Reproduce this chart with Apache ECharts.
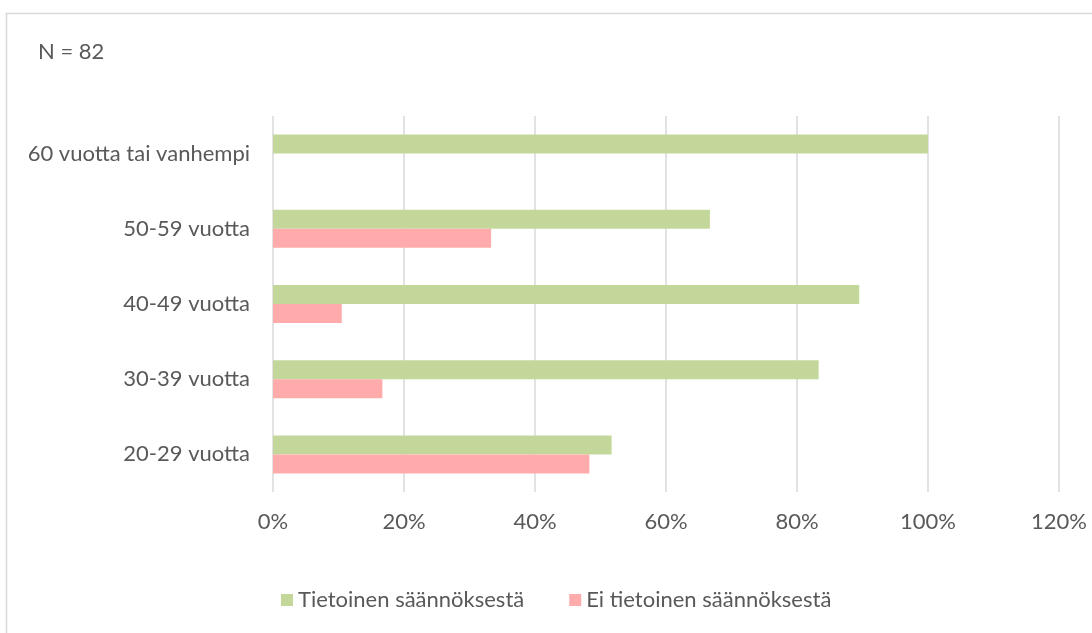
<!DOCTYPE html>
<html>
<head>
<meta charset="utf-8">
<script src="https://cdn.jsdelivr.net/npm/echarts@6/dist/echarts.min.js"></script>
<style>
  html, body { margin: 0; padding: 0; background: #fff; }
  #chart { width: 1092px; height: 633px; }
</style>
</head>
<body>
<div id="chart"></div>
<script>
// age groups, bottom to top
const categories = ['20-29 vuotta', '30-39 vuotta', '40-49 vuotta', '50-59 vuotta', '60 vuotta tai vanhempi']
const aware = [51.7, 83.3, 89.5, 66.7, 100]
const notAware = [48.3, 16.7, 10.5, 33.3, 0]
const seriesNames = ['Tietoinen säännöksestä', 'Ei tietoinen säännöksestä']

const font = 'Lato, "Open Sans", sans-serif'
const textColor = '#595959'
const fontSize = 22

const chart = echarts.init(document.getElementById('chart'))

chart.setOption({
  animation: false,
  textStyle: { fontFamily: font, color: textColor },
  graphic: [
    {
      type: 'rect',
      shape: { x: 6.5, y: 13.5, width: 1200, height: 700 },
      style: { fill: 'none', stroke: '#d9d9d9', lineWidth: 1.5 },
      silent: true
    },
    {
      type: 'text',
      left: 38,
      top: 41,
      style: { text: 'N = 82', font: fontSize + 'px ' + font, fill: textColor }
    }
  ],
  legend: {
    bottom: 17,
    left: 276,
    itemWidth: 12,
    itemHeight: 12,
    itemGap: 45,
    icon: 'rect',
    textStyle: { fontSize: fontSize, color: textColor, fontFamily: font },
    data: seriesNames
  },
  grid: {
    left: 273,
    right: 33,
    top: 116,
    bottom: 141,
    containLabel: false
  },
  xAxis: {
    type: 'value',
    min: 0,
    max: 120,
    interval: 20,
    axisLine: { show: false },
    axisTick: { show: false },
    axisLabel: {
      formatter: '{value}%',
      fontSize: fontSize,
      color: textColor,
      margin: 19
    },
    splitLine: { lineStyle: { color: '#d9d9d9', width: 1.5 } }
  },
  yAxis: {
    type: 'category',
    data: categories,
    axisLine: { show: false },
    axisTick: { show: false },
    axisLabel: { fontSize: fontSize, color: textColor, margin: 23 }
  },
  series: [
    {
      name: seriesNames[0],
      type: 'bar',
      data: aware,
      barWidth: 19,
      barGap: '0%',
      itemStyle: { color: '#c4d79b' }
    },
    {
      name: seriesNames[1],
      type: 'bar',
      data: notAware,
      barWidth: 19,
      barGap: '0%',
      itemStyle: { color: '#ffabab' }
    }
  ]
})
</script>
</body>
</html>
